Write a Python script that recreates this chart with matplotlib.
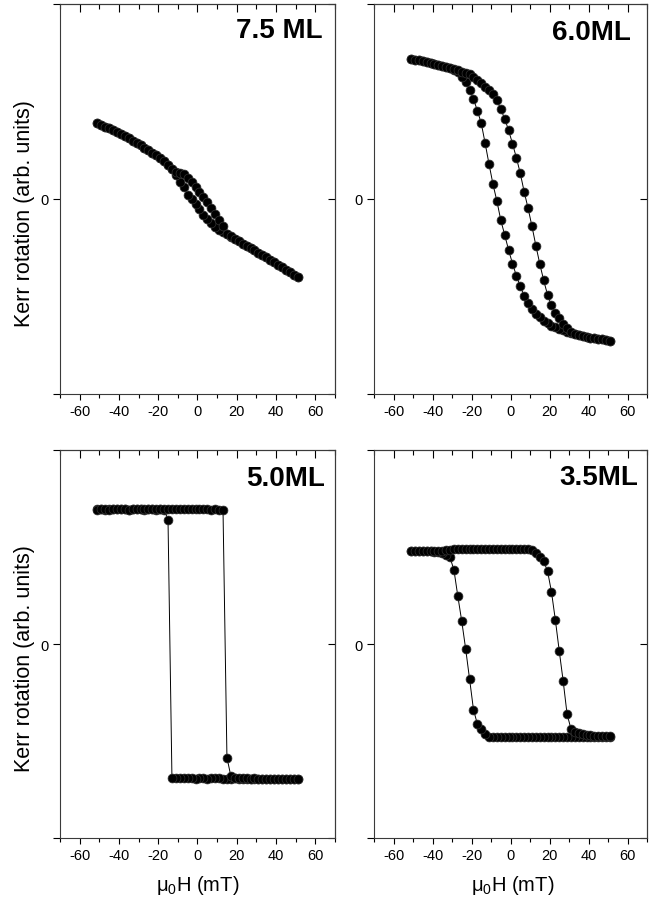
import matplotlib
matplotlib.use("Agg")
import matplotlib.pyplot as plt
from matplotlib.ticker import MultipleLocator

plt.rcParams['font.family'] = ['Liberation Sans', 'DejaVu Sans']
plt.rcParams['mathtext.fontset'] = 'custom'
plt.rcParams['mathtext.rm'] = 'Liberation Sans'
plt.rcParams['mathtext.it'] = 'Liberation Sans:italic'
plt.rcParams['mathtext.default'] = 'regular'

# applied field (mT), same grid for every sweep
field = [-51, -49, -47, -45, -43, -41, -39, -37, -35, -33, -31, -29, -27,
         -25, -23, -21, -19, -17, -15, -13, -11, -9, -7, -5, -3, -1,
         1, 3, 5, 7, 9, 11, 13, 15, 17, 19, 21, 23, 25, 27, 29, 31, 33,
         35, 37, 39, 41, 43, 45, 47, 49, 51]

# 7.5 ML : branch switching at negative field (down) and positive field (up)
ml75_down = [0.390, 0.381, 0.371, 0.362, 0.352, 0.343, 0.333, 0.322, 0.311, 0.299,
             0.287, 0.275, 0.263, 0.251, 0.238, 0.224, 0.208, 0.193, 0.174, 0.153,
             0.121, 0.086, 0.059, 0.021, -0.001, -0.026,
             -0.052, -0.080, -0.105, -0.125, -0.142, -0.157, -0.170, -0.182, -0.194, -0.205,
             -0.217, -0.229, -0.241, -0.253, -0.264, -0.276, -0.288, -0.300, -0.312, -0.324,
             -0.337, -0.350, -0.363, -0.376, -0.389, -0.401]
ml75_up = [0.390, 0.381, 0.371, 0.362, 0.352, 0.343, 0.333, 0.322, 0.311, 0.299,
           0.287, 0.275, 0.263, 0.251, 0.238, 0.224, 0.208, 0.193, 0.174, 0.155,
           0.140, 0.133, 0.127, 0.107, 0.087, 0.062,
           0.036, 0.009, -0.018, -0.045, -0.075, -0.107, -0.137, -0.178, -0.192, -0.204,
           -0.217, -0.229, -0.241, -0.253, -0.264, -0.276, -0.288, -0.300, -0.312, -0.324,
           -0.337, -0.350, -0.363, -0.376, -0.389, -0.401]

# 6.0 ML
ml60_down = [0.718, 0.715, 0.711, 0.707, 0.702, 0.698, 0.693, 0.688, 0.683, 0.677,
             0.671, 0.663, 0.650, 0.627, 0.598, 0.561, 0.513, 0.453, 0.388, 0.285,
             0.178, 0.076, -0.010, -0.108, -0.184, -0.261,
             -0.331, -0.393, -0.448, -0.497, -0.532, -0.564, -0.588, -0.606, -0.625, -0.638,
             -0.649, -0.659, -0.667, -0.674, -0.681, -0.687, -0.693, -0.698, -0.703, -0.707,
             -0.711, -0.714, -0.717, -0.720, -0.723, -0.726]
ml60_up = [0.718, 0.715, 0.711, 0.707, 0.702, 0.698, 0.693, 0.688, 0.683, 0.677,
           0.671, 0.665, 0.659, 0.653, 0.647, 0.640, 0.625, 0.609, 0.595, 0.576,
           0.557, 0.540, 0.506, 0.460, 0.412, 0.353,
           0.284, 0.212, 0.132, 0.037, -0.047, -0.140, -0.239, -0.332, -0.417, -0.492,
           -0.546, -0.585, -0.612, -0.640, -0.662, -0.680, -0.692, -0.698, -0.703, -0.707,
           -0.711, -0.714, -0.717, -0.720, -0.723, -0.726]

# 5.0 ML
ml50_down = [0.693, 0.694, 0.692, 0.693, 0.695, 0.694, 0.693, 0.694, 0.692, 0.693,
             0.694, 0.693, 0.692, 0.694, 0.693, 0.692, 0.693, 0.692, 0.640, -0.687,
             -0.689, -0.690, -0.691, -0.690, -0.691, -0.692,
             -0.691, -0.690, -0.692, -0.691, -0.690, -0.691, -0.692, -0.693, -0.692, -0.691,
             -0.692, -0.693, -0.692, -0.693, -0.694, -0.693, -0.692, -0.693, -0.694, -0.693,
             -0.694, -0.695, -0.694, -0.695, -0.694, -0.695]
ml50_up = [0.692, 0.693, 0.694, 0.692, 0.693, 0.695, 0.694, 0.693, 0.692, 0.694,
           0.693, 0.694, 0.695, 0.694, 0.693, 0.694, 0.695, 0.694, 0.695, 0.694,
           0.695, 0.694, 0.693, 0.694, 0.695, 0.694,
           0.693, 0.694, 0.693, 0.692, 0.693, 0.692, 0.692, -0.584, -0.680, -0.688,
           -0.690, -0.691, -0.690, -0.692, -0.691, -0.692, -0.693, -0.692, -0.693, -0.694,
           -0.693, -0.694, -0.693, -0.694, -0.695, -0.694]

# 3.5 ML
ml35_down = [0.478, 0.479, 0.479, 0.478, 0.478, 0.477, 0.476, 0.473, 0.467, 0.459,
             0.446, 0.380, 0.245, 0.117, -0.025, -0.180, -0.337, -0.412, -0.436, -0.465,
             -0.476, -0.477, -0.476, -0.477, -0.476, -0.477,
             -0.476, -0.476, -0.477, -0.476, -0.477, -0.476, -0.477, -0.477, -0.476, -0.477,
             -0.476, -0.477, -0.476, -0.477, -0.477, -0.476, -0.477, -0.476, -0.477, -0.477,
             -0.476, -0.477, -0.476, -0.477, -0.476, -0.476]
ml35_up = [0.478, 0.478, 0.479, 0.478, 0.479, 0.478, 0.479, 0.479, 0.480, 0.482,
           0.486, 0.489, 0.490, 0.490, 0.489, 0.490, 0.490, 0.491, 0.490, 0.490,
           0.489, 0.490, 0.490, 0.491, 0.490, 0.490,
           0.489, 0.490, 0.490, 0.490, 0.489, 0.484, 0.471, 0.450, 0.427, 0.375,
           0.269, 0.124, -0.036, -0.190, -0.360, -0.437, -0.452, -0.459, -0.464, -0.467,
           -0.469, -0.471, -0.472, -0.473, -0.474, -0.475]

labels = ['7.5 ML', '6.0ML', '5.0ML', '3.5ML']
xticks = [-60, -40, -20, 0, 20, 40, 60]
yticks = [-1, 0, 1]
ytick_labels = ['', '0', '']

spine_c = '#3a3a3a'


def draw_panel(ax, down, up, label, lx, ly):
    x = field[::-1] + field
    y = down[::-1] + up
    ax.plot(x, y, '-', color='k', lw=0.7, marker='o', ms=6.4,
            mfc='k', mec='#333333', mew=0.5)
    ax.set_xlim(-70, 70)
    ax.set_ylim(-1, 1)
    ax.set_xticks(xticks)
    ax.set_xticklabels([str(t) for t in xticks])
    ax.xaxis.set_minor_locator(MultipleLocator(10))
    ax.set_yticks(yticks)
    ax.set_yticklabels(ytick_labels)
    ax.tick_params(axis='x', which='both', direction='out', top=False,
                   labelsize=10.5, pad=3, width=0.8)
    ax.tick_params(axis='x', which='major', length=4)
    ax.tick_params(axis='x', which='minor', length=3)
    ax.tick_params(axis='y', direction='out', right=False, length=5,
                   labelsize=10.5, pad=3, width=0.8)
    for s in ax.spines.values():
        s.set_color(spine_c)
        s.set_linewidth(0.8)

    top = ax.secondary_xaxis('top')
    top.set_xticks(xticks)
    top.xaxis.set_minor_locator(MultipleLocator(10))
    top.tick_params(which='both', direction='in', labeltop=False, width=0.8)
    top.tick_params(which='major', length=6)
    top.tick_params(which='minor', length=3.5)
    top.spines['top'].set_color(spine_c)
    top.spines['top'].set_linewidth(0.8)

    right = ax.secondary_yaxis('right')
    right.set_yticks(yticks)
    right.tick_params(direction='in', labelright=False, length=5, width=0.8)
    right.spines['right'].set_color(spine_c)
    right.spines['right'].set_linewidth(0.8)

    ax.text(lx, ly, label, transform=ax.transAxes, ha='right', va='top',
            fontsize=20, fontweight='bold')


fig = plt.figure(figsize=(6.54, 9.03), dpi=100)

ax1 = fig.add_axes([0.0917, 0.5626, 0.4205, 0.4319])
ax2 = fig.add_axes([0.5719, 0.5626, 0.4174, 0.4319])
ax3 = fig.add_axes([0.0917, 0.0705, 0.4205, 0.4303])
ax4 = fig.add_axes([0.5719, 0.0705, 0.4174, 0.4303])

draw_panel(ax1, ml75_down, ml75_up, labels[0], 0.956, 0.967)
draw_panel(ax2, ml60_down, ml60_up, labels[1], 0.941, 0.962)
draw_panel(ax3, ml50_down, ml50_up, labels[2], 0.964, 0.962)
draw_panel(ax4, ml35_down, ml35_up, labels[3], 0.967, 0.964)

ylab = 'Kerr rotation (arb. units)'
fig.text(25 / 654, 1 - 214 / 903, ylab, rotation=90, ha='center', va='center', fontsize=15.5)
fig.text(25 / 654, 1 - 659 / 903, ylab, rotation=90, ha='center', va='center', fontsize=15.5)

xlab = r'$\mu_0$H (mT)'
fig.text(197.5 / 654, 1 - 886 / 903, xlab, ha='center', va='center', fontsize=14.5)
fig.text(512.5 / 654, 1 - 886 / 903, xlab, ha='center', va='center', fontsize=14.5)

fig.savefig('out.png', dpi=100)
